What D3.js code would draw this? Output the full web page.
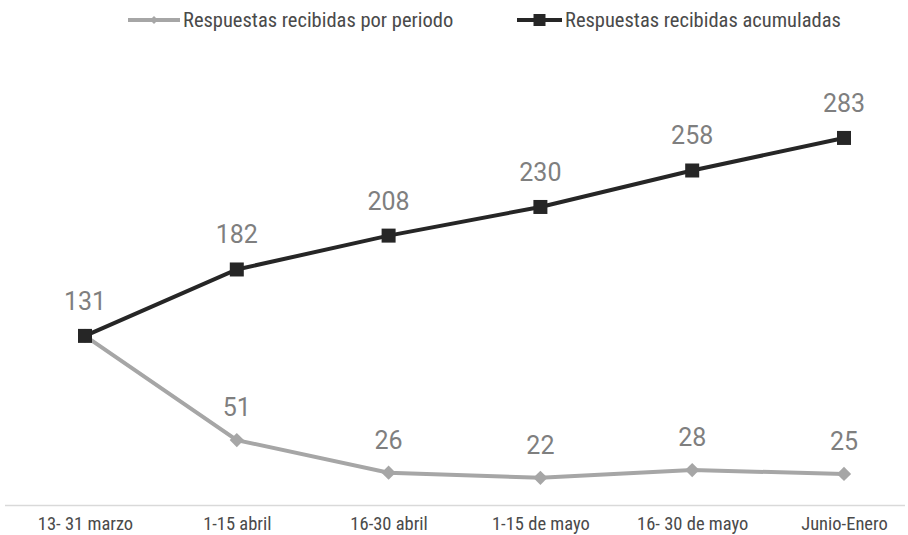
<!DOCTYPE html>
<html><head><meta charset="utf-8">
<script src="https://cdn.jsdelivr.net/npm/d3@7"></script>
<style>body{margin:0;background:#fff}svg{display:block}</style>
</head><body>
<svg id="c" width="908" height="535"></svg>
<script>
const categories = ["13- 31 marzo","1-15 abril","16-30 abril","1-15 de mayo","16- 30 de mayo","Junio-Enero"];
const porPeriodo = [131,51,26,22,28,25];
const acumuladas = [131,182,208,230,258,283];
const seriesNames = ["Respuestas recibidas por periodo","Respuestas recibidas acumuladas"];

const svg = d3.select("#c");
const font = "Roboto, 'Noto Sans', sans-serif";
const grayC = "#a6a6a6", darkC = "#262626", labC = "#7f7f7f", txtC = "#4a4a4a";

const x = d3.scalePoint().domain(categories).range([85, 844]);
const y = d3.scaleLinear().domain([0, 300]).range([506.5, 115.8]);

// baseline axis
const xAxis = d3.axisBottom(x).tickSize(0).tickPadding(0);
const gx = svg.append("g").attr("transform","translate(0,505.5)").call(xAxis);
gx.select(".domain").remove();
gx.append("line").attr("x1",5).attr("x2",905).attr("stroke","#d9d9d9").attr("stroke-width",1.5);
gx.selectAll(".tick text").attr("font-family",font).attr("font-size",18.5).attr("fill",txtC)
  .attr("y",24.5).attr("dy",0).style("font-stretch","condensed");

const line = d3.line().x((d,i)=>x(categories[i])).y(d=>y(d));

svg.append("path").datum(porPeriodo).attr("d",line).attr("fill","none").attr("stroke",grayC).attr("stroke-width",4);
svg.append("path").datum(acumuladas).attr("d",line).attr("fill","none").attr("stroke",darkC).attr("stroke-width",4);

const diamond = d3.symbol().type(d3.symbolDiamond2).size(130);
svg.selectAll(".dm").data(porPeriodo).enter().append("path")
  .attr("d",diamond).attr("fill",grayC)
  .attr("transform",(d,i)=>`translate(${x(categories[i])},${y(d)})`);
svg.selectAll(".sq").data(acumuladas).enter().append("rect")
  .attr("x",(d,i)=>x(categories[i])-7).attr("y",d=>y(d)-7).attr("width",14).attr("height",14).attr("fill",darkC);

// value labels
svg.selectAll(".lp").data(porPeriodo.slice(1)).enter().append("text")
  .attr("x",(d,i)=>x(categories[i+1])).attr("y",d=>y(d)-24)
  .attr("text-anchor","middle").attr("font-family",font).attr("font-size",25).attr("fill",labC).text(d=>d);
svg.selectAll(".la").data(acumuladas).enter().append("text")
  .attr("x",(d,i)=>x(categories[i])).attr("y",d=>y(d)-26)
  .attr("text-anchor","middle").attr("font-family",font).attr("font-size",25).attr("fill",labC).text(d=>d);

// legend
const leg = [{name:seriesNames[0],c:grayC,sym:"d",x1:128,x2:180,tx:183},{name:seriesNames[1],c:darkC,sym:"s",x1:517,x2:562,tx:565}];
const lg = svg.selectAll(".lg").data(leg).enter().append("g");
lg.append("line").attr("x1",d=>d.x1).attr("x2",d=>d.x2).attr("y1",20).attr("y2",20).attr("stroke",d=>d.c).attr("stroke-width",4);
lg.append("path").attr("d",d=>d.sym==="d"?d3.symbol().type(d3.symbolDiamond2).size(40)():"M-6,-6h12v12h-12z")
  .attr("transform",d=>`translate(${(d.x1+d.x2)/2},20)`).attr("fill",d=>d.c);
lg.append("text").attr("x",d=>d.tx).attr("y",27).attr("font-family",font).attr("font-size",20.5).attr("fill",txtC)
  .style("font-stretch","condensed").text(d=>d.name);
</script>
</body></html>
